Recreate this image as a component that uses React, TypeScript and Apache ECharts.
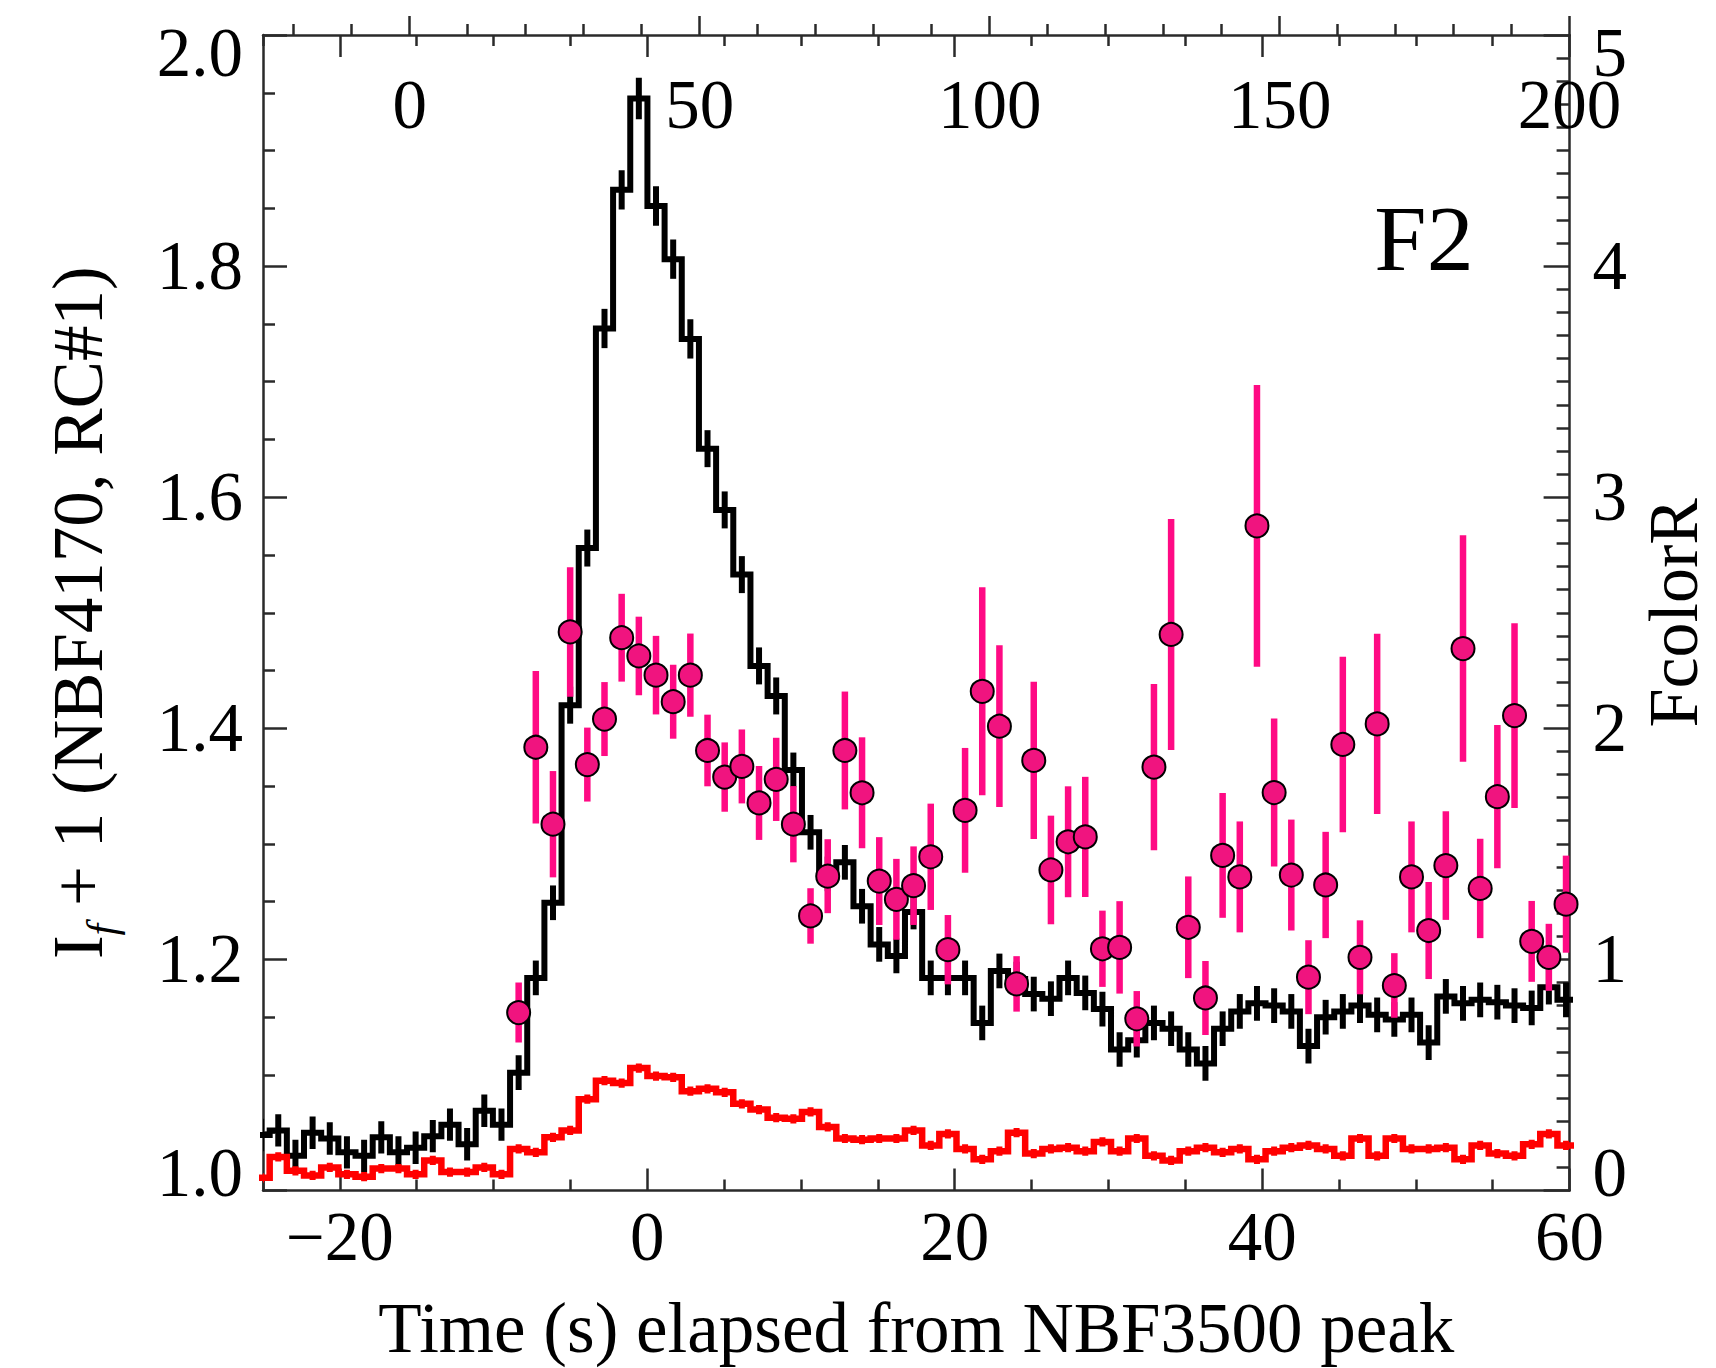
import React, { useEffect, useRef } from "react";
import * as echarts from "echarts";

// ---- data ----
const BIN_WIDTH = 1.117; // s, width of one time bin
const FIRST_BIN_CENTER = -25.124; // centre of first light-curve bin (s)
const FIRST_COLOR_CENTER = -8.369; // centre of first FcolorR point (s)

// black: I_f + 1 (NBF4170, RC#1)
const blackFlux = [
  1.048, 1.052, 1.030, 1.050, 1.045, 1.033, 1.030, 1.046, 1.033, 1.037, 1.047,
  1.057, 1.040, 1.069, 1.057, 1.102, 1.184, 1.249, 1.420, 1.556, 1.746, 1.866,
  1.945, 1.852, 1.806, 1.737, 1.642, 1.589, 1.533, 1.454, 1.428, 1.364, 1.310, 1.274,
  1.284, 1.246, 1.213, 1.203, 1.241, 1.184, 1.184, 1.184,
  1.145, 1.190, 1.183, 1.170, 1.166, 1.184, 1.171, 1.157,
  1.122, 1.130, 1.145, 1.140, 1.122, 1.110, 1.140, 1.155, 1.162, 1.160, 1.155, 1.125,
  1.150, 1.155, 1.160, 1.152, 1.148, 1.152, 1.128, 1.168, 1.162, 1.165, 1.163, 1.160,
  1.158, 1.176, 1.165,
];
const blackErr = [
  0.014, 0.014, 0.014, 0.014, 0.014, 0.014, 0.014, 0.014, 0.014, 0.014, 0.014,
  0.014, 0.014, 0.014, 0.014, 0.015, 0.015, 0.015, 0.016, 0.016, 0.017, 0.017,
  0.018, 0.017, 0.017, 0.017, 0.016, 0.016, 0.016, 0.016, 0.016, 0.015, 0.015, 0.015,
  0.015, 0.015, 0.015, 0.015, 0.015, 0.015, 0.015, 0.015,
  0.015, 0.015, 0.015, 0.015, 0.015, 0.015, 0.015, 0.015,
  0.015, 0.015, 0.015, 0.015, 0.015, 0.015, 0.015, 0.015, 0.015, 0.015, 0.015, 0.015,
  0.015, 0.015, 0.015, 0.015, 0.015, 0.015, 0.015, 0.015, 0.015, 0.015, 0.015, 0.015,
  0.015, 0.015, 0.015,
];

// red: reference light curve
const redFlux = [
  1.011, 1.029, 1.017, 1.013, 1.020, 1.014, 1.012, 1.019, 1.019, 1.014, 1.026,
  1.016, 1.016, 1.020, 1.014, 1.036, 1.033, 1.046, 1.052, 1.079, 1.095, 1.093,
  1.106, 1.099, 1.098, 1.086, 1.088, 1.085, 1.075, 1.070, 1.063, 1.062, 1.068, 1.055,
  1.045, 1.044, 1.045, 1.045, 1.052, 1.039, 1.049, 1.036,
  1.027, 1.034, 1.050, 1.032, 1.036, 1.037, 1.034, 1.042,
  1.034, 1.045, 1.030, 1.026, 1.034, 1.037, 1.033, 1.036, 1.027, 1.034, 1.037, 1.039,
  1.036, 1.030, 1.045, 1.030, 1.045, 1.036, 1.036, 1.037, 1.027, 1.039, 1.032, 1.030,
  1.040, 1.049, 1.039,
];
const redErr = [
  0.004, 0.004, 0.004, 0.004, 0.004, 0.004, 0.004, 0.004, 0.004, 0.004, 0.004,
  0.004, 0.004, 0.004, 0.004, 0.004, 0.004, 0.004, 0.004, 0.004, 0.004, 0.004,
  0.004, 0.004, 0.004, 0.004, 0.004, 0.004, 0.004, 0.004, 0.004, 0.004, 0.004, 0.004,
  0.004, 0.004, 0.004, 0.004, 0.004, 0.004, 0.004, 0.004,
  0.004, 0.004, 0.004, 0.004, 0.004, 0.004, 0.004, 0.004,
  0.004, 0.004, 0.004, 0.004, 0.004, 0.004, 0.004, 0.004, 0.004, 0.004, 0.004, 0.004,
  0.004, 0.004, 0.004, 0.004, 0.004, 0.004, 0.004, 0.004, 0.004, 0.004, 0.004, 0.004,
  0.004, 0.004, 0.004,
];

// magenta: FcolorR (right axis)
const fcolorR = [
  0.77, 1.918, 1.585, 2.417, 1.843, 2.04, 2.392, 2.313, 2.23, 2.115, 2.23, 1.904,
  1.789, 1.835, 1.677, 1.779, 1.585, 1.188, 1.36,
  1.904, 1.721, 1.339, 1.26, 1.319, 1.444, 1.042, 1.645, 2.16, 2.009, 0.894, 1.861,
  1.387, 1.509, 1.53, 1.046, 1.052, 0.743, 1.832, 2.406, 1.139, 0.833,
  1.45, 1.357, 2.876, 1.722, 1.365, 0.923, 1.322, 1.93, 1.009, 2.019, 0.887, 1.357,
  1.125, 1.406, 2.345, 1.307, 1.704, 2.055, 1.078, 1.009, 1.239,
];
const fcolorRErr = [
  0.13, 0.33, 0.23, 0.28, 0.16, 0.16, 0.19, 0.17, 0.17, 0.16, 0.18, 0.155,
  0.15, 0.16, 0.16, 0.18, 0.165, 0.12, 0.16,
  0.255, 0.24, 0.19, 0.175, 0.17, 0.23, 0.15, 0.27, 0.45, 0.35, 0.12, 0.34,
  0.235, 0.24, 0.26, 0.165, 0.2, 0.12, 0.36, 0.5, 0.22, 0.16,
  0.27, 0.24, 0.61, 0.32, 0.24, 0.16, 0.23, 0.38, 0.16, 0.39, 0.14, 0.24,
  0.21, 0.235, 0.49, 0.215, 0.31, 0.4, 0.175, 0.145, 0.21,
];

// axis ticks
const timeMajorTicks = [-20, 0, 20, 40, 60];
const timeMinorTicks = [-25, -15, -10, -5, 5, 10, 15, 25, 30, 35, 45, 50, 55];
const frameMajorTicks = [0, 50, 100, 150, 200];
const frameMinorTicks = [-20, -10, 10, 20, 30, 40, 60, 70, 80, 90, 110, 120, 130, 140, 160, 170, 180, 190];

const FONT = "'Liberation Serif', 'Times New Roman', Times, serif";
const AXIS_COLOR = "#2a2a2a";

function stepPoints(values: number[]) {
  const pts: number[][] = [];
  values.forEach((v, i) => {
    const c = FIRST_BIN_CENTER + i * BIN_WIDTH;
    pts.push([c - BIN_WIDTH / 2, v], [c + BIN_WIDTH / 2, v]);
  });
  return pts;
}
function errData(values: number[], errs: number[], first: number) {
  return values.map((v, i) => [first + i * BIN_WIDTH, v - errs[i], v + errs[i]]);
}
function errRender(color: string, width: number) {
  return (params: any, api: any) => {
    const x = api.value(0);
    const lo = api.coord([x, api.value(1)]);
    const hi = api.coord([x, api.value(2)]);
    return {
      type: "line",
      shape: { x1: lo[0], y1: lo[1], x2: hi[0], y2: hi[1] },
      style: { stroke: color, lineWidth: width, lineCap: "butt" },
    };
  };
}

const lineStyle = { color: AXIS_COLOR, width: 2.5 };

export default function App() {
  const ref = useRef<HTMLDivElement>(null);
  useEffect(() => {
    if (!ref.current) return;
    const chart = echarts.init(ref.current, undefined, { renderer: "svg" });
    const fmtTime = (v: number) => (v < 0 ? "\u2212" + Math.abs(v) : String(v));
    const option: any = {
      animation: false,
      backgroundColor: "#ffffff",
      grid: { left: 263, top: 35, width: 1315, height: 1160, containLabel: false },
      xAxis: [
        {
          type: "value", position: "bottom", min: -25, max: 60,
          axisLine: { show: true, onZero: false, lineStyle },
          axisTick: { show: true, inside: true, length: 22, customValues: timeMajorTicks, lineStyle },
          axisLabel: {
            show: true, customValues: timeMajorTicks, formatter: fmtTime, fontSize: 69,
            fontFamily: FONT, color: "#000", margin: 28, lineHeight: 36,
          },
          splitLine: { show: false },
          name: "Time (s) elapsed from NBF3500 peak", nameLocation: "middle", nameGap: 102,
          nameTextStyle: { fontSize: 71, fontFamily: FONT, color: "#000", lineHeight: 70 },
        },
        {
          type: "value", position: "bottom", min: -25, max: 60,
          axisLine: { show: false, onZero: false },
          axisTick: { show: true, inside: true, length: 11, customValues: timeMinorTicks, lineStyle },
          axisLabel: { show: false }, splitLine: { show: false },
        },
        {
          type: "value", position: "top", min: -25, max: 60,
          axisLine: { show: false, onZero: false },
          axisTick: { show: true, inside: true, length: 22, customValues: timeMajorTicks, lineStyle },
          axisLabel: { show: false }, splitLine: { show: false },
        },
        {
          type: "value", position: "top", min: -25, max: 60,
          axisLine: { show: false, onZero: false },
          axisTick: { show: true, inside: true, length: 11, customValues: timeMinorTicks, lineStyle },
          axisLabel: { show: false }, splitLine: { show: false },
        },
        {
          type: "value", position: "top", min: -25.3, max: 200,
          axisLine: { show: true, onZero: false, lineStyle },
          axisTick: { show: true, inside: false, length: 19, customValues: frameMajorTicks, lineStyle },
          axisLabel: {
            show: true, inside: true, customValues: frameMajorTicks, fontSize: 69,
            fontFamily: FONT, color: "#000", margin: 52, lineHeight: 36,
          },
          splitLine: { show: false },
        },
        {
          type: "value", position: "top", min: -25.3, max: 200,
          axisLine: { show: false, onZero: false },
          axisTick: { show: true, inside: false, length: 11, customValues: frameMinorTicks, lineStyle },
          axisLabel: { show: false }, splitLine: { show: false },
        },
      ],
      yAxis: [
        {
          type: "value", position: "left", min: 1, max: 2, interval: 0.2,
          axisLine: { show: true, onZero: false, lineStyle },
          axisTick: { show: true, inside: true, length: 24, lineStyle },
          minorTick: { show: true, splitNumber: 4, length: 12, lineStyle },
          axisLabel: {
            show: true, showMinLabel: true, showMaxLabel: true,
            formatter: (v: number) => v.toFixed(1), fontSize: 69, fontFamily: FONT, color: "#000",
            margin: 20, lineHeight: 36, verticalAlignMinLabel: "bottom", verticalAlignMaxLabel: "top",
          },
          splitLine: { show: false },
          name: "{i|I}{s|f}{i| + 1 (NBF4170, RC#1)}",
          nameLocation: "middle", nameRotate: 90, nameGap: 140,
          nameTextStyle: {
            fontSize: 71, fontFamily: FONT, color: "#000",
            rich: {
              i: { fontSize: 71, fontFamily: FONT, color: "#000", lineHeight: 90 },
              s: { fontSize: 42, fontFamily: FONT, fontStyle: "italic", color: "#000", lineHeight: 42, verticalAlign: "bottom" },
            },
          },
        },
        {
          type: "value", position: "right", min: 0, max: 5, interval: 1,
          axisLine: { show: true, onZero: false, lineStyle },
          axisTick: { show: true, inside: true, length: 26, lineStyle },
          minorTick: { show: true, splitNumber: 10, length: 13, lineStyle },
          axisLabel: {
            show: true, showMinLabel: true, showMaxLabel: true, fontSize: 69, fontFamily: FONT,
            color: "#000", margin: 23, lineHeight: 36,
            verticalAlignMinLabel: "bottom", verticalAlignMaxLabel: "top",
          },
          splitLine: { show: false },
          name: "FcolorR", nameLocation: "middle", nameRotate: 90, nameGap: 61,
          nameTextStyle: { fontSize: 70, fontFamily: FONT, color: "#000", lineHeight: 70 },
        },
      ],
      graphic: [
        {
          type: "text", x: 1424, y: 238, z: 10,
          style: {
            text: "F2", fontSize: 94, fontFamily: FONT, fill: "#000",
            textAlign: "center", textVerticalAlign: "middle", align: "center", verticalAlign: "middle",
          },
        },
      ],
      series: [
        {
          type: "line", xAxisIndex: 0, yAxisIndex: 0, data: stepPoints(blackFlux),
          showSymbol: false, symbol: "none", clip: true, z: 2,
          lineStyle: { color: "#000", width: 6, join: "miter", cap: "butt" },
        },
        {
          type: "custom", xAxisIndex: 0, yAxisIndex: 0, clip: true, z: 2,
          data: errData(blackFlux, blackErr, FIRST_BIN_CENTER),
          encode: { x: 0, y: [1, 2] }, renderItem: errRender("#000", 6),
        },
        {
          type: "line", xAxisIndex: 0, yAxisIndex: 0, data: stepPoints(redFlux),
          showSymbol: false, symbol: "none", clip: true, z: 3,
          lineStyle: { color: "#ff0000", width: 6.5, join: "miter", cap: "butt" },
        },
        {
          type: "custom", xAxisIndex: 0, yAxisIndex: 0, clip: true, z: 3,
          data: errData(redFlux, redErr, FIRST_BIN_CENTER),
          encode: { x: 0, y: [1, 2] }, renderItem: errRender("#ff0000", 6),
        },
        {
          type: "custom", xAxisIndex: 0, yAxisIndex: 1, clip: true, z: 4,
          data: errData(fcolorR, fcolorRErr, FIRST_COLOR_CENTER),
          encode: { x: 0, y: [1, 2] }, renderItem: errRender("#ff0a84", 6.5),
        },
        {
          type: "scatter", xAxisIndex: 0, yAxisIndex: 1, z: 5,
          data: fcolorR.map((v, i) => [FIRST_COLOR_CENTER + i * BIN_WIDTH, v]),
          symbol: "circle", symbolSize: 23,
          itemStyle: { color: "#f0147f", borderColor: "#000", borderWidth: 2, opacity: 1 },
        },
      ],
    };
    chart.setOption(option);
    return () => chart.dispose();
  }, []);
  return (
    <div
      ref={ref}
      style={{ position: "absolute", left: 0, top: 0, width: 1716, height: 1368, background: "#fff" }}
    />
  );
}
